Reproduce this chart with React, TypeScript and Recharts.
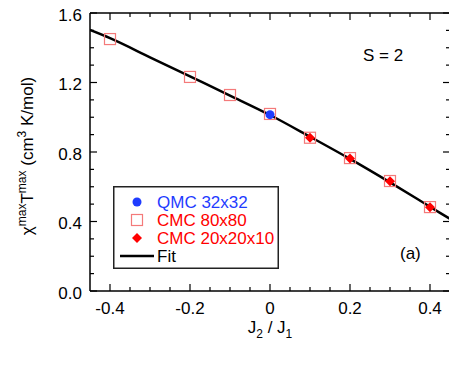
import React from 'react';
import { ComposedChart, Line, Scatter, XAxis, YAxis, Legend } from 'recharts';

const fitX = [-0.45, -0.4, -0.3, -0.2, -0.1, 0, 0.1, 0.2, 0.3, 0.4, 0.45];
const fitY = [1.502, 1.455, 1.345, 1.235, 1.125, 1.013, 0.888, 0.76, 0.625, 0.485, 0.415];
const cmc80X = [-0.4, -0.2, -0.1, 0, 0.1, 0.2, 0.3, 0.4];
const cmc80Y = [1.45, 1.232, 1.128, 1.019, 0.882, 0.765, 0.633, 0.483];
const cmc20X = [0.1, 0.2, 0.3, 0.4];
const cmc20Y = [0.882, 0.762, 0.632, 0.482];
const qmcX = [0];
const qmcY = [1.015];
const xTicks = [-0.4, -0.35, -0.3, -0.25, -0.2, -0.15, -0.1, -0.05, 0, 0.05, 0.1, 0.15, 0.2, 0.25, 0.3, 0.35, 0.4];
const yTicks = [0, 0.1, 0.2, 0.3, 0.4, 0.5, 0.6, 0.7, 0.8, 0.9, 1.0, 1.1, 1.2, 1.3, 1.4, 1.5, 1.6];
const legendItems = ['QMC 32x32', 'CMC 80x80', 'CMC 20x20x10', 'Fit'];
const annotation = 'S = 2';
const panel = '(a)';

const FONT = '"Liberation Sans", Arial, sans-serif';
const BLUE = '#1f3cff';
const RED = '#ff0000';
const PINK = '#f47a7a';

const fitData = fitX.map((x, i) => ({ x, y: fitY[i] }));
const cmc80Data = cmc80X.map((x, i) => ({ x, y: cmc80Y[i] }));
const cmc20Data = cmc20X.map((x, i) => ({ x, y: cmc20Y[i] }));
const qmcData = qmcX.map((x, i) => ({ x, y: qmcY[i] }));

const isMajorX = (v: number) => Math.round(v * 20) % 4 === 0;
const isMajorY = (v: number) => Math.round(v * 10) % 4 === 0;
const fmtX = (v: number) => (Math.abs(v) < 1e-9 ? '0' : v.toFixed(1));

const BottomTick = (p: any) => {
  const v = p.payload.value;
  const major = isMajorX(v);
  return (
    <g>
      <line x1={p.x} x2={p.x} y1={p.y} y2={p.y - (major ? 7 : 4)} stroke="#000" strokeWidth={1.2} />
      {major && (
        <text x={p.x} y={p.y + 23} textAnchor="middle" fontSize={17} fontFamily={FONT} fill="#000">
          {fmtX(v)}
        </text>
      )}
    </g>
  );
};
const TopTick = (p: any) => {
  const major = isMajorX(p.payload.value);
  return <line x1={p.x} x2={p.x} y1={p.y} y2={p.y + (major ? 7 : 4)} stroke="#000" strokeWidth={1.2} />;
};
const LeftTick = (p: any) => {
  const v = p.payload.value;
  const major = isMajorY(v);
  return (
    <g>
      <line x1={p.x} x2={p.x + (major ? 7 : 4)} y1={p.y} y2={p.y} stroke="#000" strokeWidth={1.2} />
      {major && (
        <text x={p.x - 8} y={p.y + 7.5} textAnchor="end" fontSize={17} fontFamily={FONT} fill="#000">
          {v.toFixed(1)}
        </text>
      )}
    </g>
  );
};
const RightTick = (p: any) => {
  const major = isMajorY(p.payload.value);
  return <line x1={p.x} x2={p.x - (major ? 7 : 4)} y1={p.y} y2={p.y} stroke="#000" strokeWidth={1.2} />;
};

const Square = (p: any) => (
  <rect x={p.cx - 5.5} y={p.cy - 5.5} width={11} height={11} fill="none" stroke={PINK} strokeWidth={1.2} />
);
const Diamond = (p: any) => (
  <path d={`M${p.cx},${p.cy - 5}L${p.cx + 5},${p.cy}L${p.cx},${p.cy + 5}L${p.cx - 5},${p.cy}Z`} fill={RED} />
);
const Dot = (p: any) => <circle cx={p.cx} cy={p.cy} r={4.5} fill={BLUE} />;

const YLabel = (p: any) => {
  const vb = p.viewBox || { x: 8, y: 13, width: 82, height: 278 };
  const cx = 33;
  const cy = vb.y + vb.height / 2 + 4;
  return (
    <text
      x={cx}
      y={cy}
      transform={`rotate(-90, ${cx}, ${cy})`}
      textAnchor="middle"
      fontSize={17}
      fontFamily={FONT}
      fill="#000"
    >
      <tspan>χ</tspan>
      <tspan fontSize={12} dy={-7}>max</tspan>
      <tspan dy={7}>T</tspan>
      <tspan fontSize={12} dy={-7}>max</tspan>
      <tspan dy={7}> (cm</tspan>
      <tspan fontSize={12} dy={-7}>3</tspan>
      <tspan dy={7}> K/mol)</tspan>
    </text>
  );
};

const XLabel = (p: any) => {
  const vb = p.viewBox || { x: 90, y: 291, width: 360, height: 77 };
  const cx = vb.x + vb.width / 2;
  const cy = vb.y + 42;
  return (
    <text x={cx} y={cy} textAnchor="middle" fontSize={17} fontFamily={FONT} fill="#000">
      <tspan>J</tspan>
      <tspan fontSize={12} dy={5}>2</tspan>
      <tspan dy={-5}> / J</tspan>
      <tspan fontSize={12} dy={5}>1</tspan>
    </text>
  );
};

const LegendBox = () => (
  <svg width={166} height={83} style={{ display: 'block' }}>
    <rect x={0.75} y={0.75} width={164.5} height={81.5} fill="#fff" stroke="#222" strokeWidth={1.5} />
    <circle cx={24} cy={16} r={4.5} fill={BLUE} />
    <rect x={18.5} y={28.5} width={11} height={11} fill="none" stroke={PINK} strokeWidth={1.2} />
    <path d="M24,47L29,52L24,57L19,52Z" fill={RED} />
    <line x1={7} x2={41} y1={70} y2={70} stroke="#000" strokeWidth={2.5} />
    {legendItems.map((t, i) => (
      <text
        key={t}
        x={44}
        y={16 + i * 18 + 6}
        fontSize={17}
        fontFamily={FONT}
        fill={i === 0 ? BLUE : i === 3 ? '#000' : RED}
      >
        {t}
      </text>
    ))}
  </svg>
);

export default function App() {
  return (
    <div style={{ position: 'relative', width: 457, height: 368, margin: '-8px 0 0 -8px' }}>
      <ComposedChart width={457} height={368} margin={{ top: 12, right: 6, left: 8, bottom: 0 }}>
        <XAxis
          xAxisId="b"
          dataKey="x"
          type="number"
          domain={[-0.45, 0.45]}
          ticks={xTicks}
          interval={0}
          allowDataOverflow
          height={77}
          tickSize={0}
          tickMargin={0}
          tickLine={false}
          axisLine={{ stroke: '#000', strokeWidth: 1.5 }}
          tick={<BottomTick />}
          label={<XLabel />}
        />
        <XAxis
          xAxisId="t"
          dataKey="x"
          type="number"
          orientation="top"
          domain={[-0.45, 0.45]}
          ticks={xTicks}
          interval={0}
          allowDataOverflow
          height={1}
          tickSize={0}
          tickMargin={0}
          tickLine={false}
          axisLine={{ stroke: '#000', strokeWidth: 1.5 }}
          tick={<TopTick />}
        />
        <YAxis
          yAxisId="l"
          dataKey="y"
          type="number"
          domain={[0, 1.6]}
          ticks={yTicks}
          interval={0}
          allowDataOverflow
          width={82}
          tickSize={0}
          tickMargin={0}
          tickLine={false}
          axisLine={{ stroke: '#000', strokeWidth: 1.5 }}
          tick={<LeftTick />}
          label={<YLabel />}
        />
        <YAxis
          yAxisId="r"
          orientation="right"
          dataKey="y"
          type="number"
          domain={[0, 1.6]}
          ticks={yTicks}
          interval={0}
          allowDataOverflow
          width={1}
          tickSize={0}
          tickMargin={0}
          tickLine={false}
          axisLine={{ stroke: '#000', strokeWidth: 1.5 }}
          tick={<RightTick />}
        />
        <Line
          xAxisId="t"
          yAxisId="r"
          data={fitData}
          dataKey="y"
          type="monotone"
          stroke="#000"
          strokeWidth={2.5}
          dot={false}
          isAnimationActive={false}
        />
        <Scatter xAxisId="b" yAxisId="l" data={cmc80Data} dataKey="y" shape={<Square />} isAnimationActive={false} />
        <Scatter xAxisId="b" yAxisId="l" data={cmc20Data} dataKey="y" shape={<Diamond />} isAnimationActive={false} />
        <Scatter xAxisId="b" yAxisId="l" data={qmcData} dataKey="y" shape={<Dot />} isAnimationActive={false} />
        <Legend
          layout="vertical"
          align="center"
          verticalAlign="middle"
          content={<LegendBox />}
          wrapperStyle={{ position: 'absolute', left: 113, top: 186, width: 166, height: 83 }}
        />
      </ComposedChart>
      <div
        style={{
          position: 'absolute',
          left: 363,
          top: 47,
          fontSize: 17,
          lineHeight: '17px',
          fontFamily: FONT,
          color: '#000',
          whiteSpace: 'nowrap',
        }}
      >
        {annotation}
      </div>
      <div
        style={{
          position: 'absolute',
          left: 400,
          top: 245,
          fontSize: 17,
          lineHeight: '17px',
          fontFamily: FONT,
          color: '#000',
          whiteSpace: 'nowrap',
        }}
      >
        {panel}
      </div>
    </div>
  );
}
